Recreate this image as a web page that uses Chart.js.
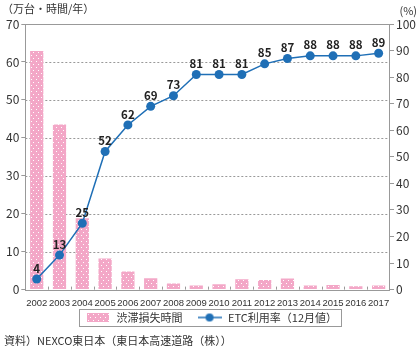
<!DOCTYPE html>
<html>
<head>
<meta charset="utf-8">
<script src="https://cdn.jsdelivr.net/npm/chart.js@4"></script>
<style>
  html, body { margin: 0; padding: 0; background: #fff; }
  #wrap { width: 420px; height: 349px; }
</style>
</head>
<body>
<div id="wrap"><canvas id="chart"></canvas></div>
<script>
const years = ['2002', '2003', '2004', '2005', '2006', '2007', '2008', '2009', '2010', '2011', '2012', '2013', '2014', '2015', '2016', '2017'];
const lossHours = [62.9, 43.5, 18.8, 8.2, 4.8, 3.0, 1.6, 1.1, 1.4, 2.7, 2.5, 2.9, 1.1, 1.2, 0.9, 1.1];
const etcRate = [4, 13, 25, 52, 62, 69, 73, 81, 81, 81, 85, 87, 88, 88, 88, 89];

const pink = '#f3a7c7';
const blue = '#1f6fb6';
const jp = '"Noto Sans CJK JP", "Noto Sans", sans-serif';
const narrow = '"Liberation Sans", Arial, sans-serif';

// pink fill with little white dots
function dotPattern() {
    const c = document.createElement('canvas');
    c.width = 5; c.height = 6;
    const g = c.getContext('2d');
    g.fillStyle = pink;
    g.fillRect(0, 0, 5, 6);
    g.fillStyle = '#fff';
    g.fillRect(1, 1, 1, 1);
    g.fillRect(3, 4, 1, 1);
    return g.createPattern(c, 'repeat');
}
const barFill = dotPattern();

function legendBarIcon() {
    const c = document.createElement('canvas');
    c.width = 22; c.height = 9;
    const g = c.getContext('2d');
    g.fillStyle = barFill;
    g.fillRect(0, 0, 22, 9);
    return c;
}
function legendLineIcon() {
    const c = document.createElement('canvas');
    c.width = 24; c.height = 10;
    const g = c.getContext('2d');
    g.strokeStyle = blue;
    g.lineWidth = 1.5;
    g.beginPath(); g.moveTo(0, 5); g.lineTo(24, 5); g.stroke();
    g.fillStyle = blue;
    g.beginPath(); g.arc(12, 5, 4, 0, Math.PI * 2); g.fill();
    return c;
}

const extras = {
    id: 'extras',
    beforeDatasetsDraw(chart) {
        // dotted grid lines from the left scale
        const { ctx, chartArea: a } = chart;
        const y = chart.scales.y;
        ctx.save();
        ctx.strokeStyle = '#999';
        ctx.lineWidth = 1;
        ctx.setLineDash([2, 2]);
        y.ticks.forEach((t, i) => {
            if (t.value === 0 || t.value === 70) return;
            const py = Math.round(y.getPixelForTick(i)) + 0.5;
            ctx.beginPath(); ctx.moveTo(a.left, py); ctx.lineTo(a.right, py); ctx.stroke();
        });
        ctx.restore();
    },
    afterDatasetsDraw(chart) {
        const { ctx, chartArea: a } = chart;
        ctx.save();
        // frame
        ctx.strokeStyle = '#999';
        ctx.lineWidth = 1;
        ctx.strokeRect(Math.round(a.left) + 0.5, Math.round(a.top) + 0.5, Math.round(a.right - a.left) - 1, Math.round(a.bottom - a.top));
        // small ticks between categories
        const x = chart.scales.x;
        for (let i = 1; i < years.length; i++) {
            const px = Math.round((x.getPixelForTick(i - 1) + x.getPixelForTick(i)) / 2) + 0.5;
            ctx.beginPath(); ctx.moveTo(px, a.bottom); ctx.lineTo(px, a.bottom - 3); ctx.stroke();
        }
        // values above line points
        const meta = chart.getDatasetMeta(1);
        ctx.fillStyle = '#222';
        ctx.font = 'bold 11.5px ' + jp;
        ctx.textAlign = 'center';
        ctx.textBaseline = 'bottom';
        meta.data.forEach((p, i) => {
            ctx.fillText(String(etcRate[i]), p.x, p.y - 5);
        });
        ctx.restore();
    },
    afterDraw(chart) {
        const { ctx } = chart;
        ctx.save();
        ctx.fillStyle = '#333';
        ctx.font = '11px ' + jp;
        ctx.textBaseline = 'middle';
        ctx.textAlign = 'left';
        ctx.fillText('（万台・時間/年）', 2, 9);
        ctx.fillText('資料）NEXCO東日本（東日本高速道路（株））', 4, 341);
        ctx.textAlign = 'right';
        ctx.fillText('(%)', 417, 11);
        // legend border
        const hb = chart.legend.legendHitBoxes;
        if (hb && hb.length) {
            const l = Math.min(...hb.map(h => h.left)) - 6;
            const r = Math.max(...hb.map(h => h.left + h.width)) + 4;
            const t = Math.min(...hb.map(h => h.top)) - 3;
            const b = Math.max(...hb.map(h => h.top + h.height)) + 3;
            ctx.strokeStyle = '#999';
            ctx.lineWidth = 1;
            ctx.strokeRect(Math.round(l) + 0.5, Math.round(t) + 0.5, Math.round(r - l), Math.round(b - t));
        }
        ctx.restore();
    }
};

new Chart(document.getElementById('chart'), {
    type: 'bar',
    data: {
        labels: years,
        datasets: [
            {
                label: '渋滞損失時間',
                data: lossHours,
                backgroundColor: barFill,
                borderWidth: 0,
                barPercentage: 0.58,
                categoryPercentage: 1,
                yAxisID: 'y',
                order: 2
            },
            {
                type: 'line',
                label: 'ETC利用率（12月値）',
                data: etcRate,
                borderColor: blue,
                backgroundColor: blue,
                borderWidth: 1.5,
                pointRadius: 4.5,
                pointBackgroundColor: blue,
                pointBorderWidth: 0,
                tension: 0,
                yAxisID: 'y1',
                order: 1
            }
        ]
    },
    options: {
        responsive: true,
        maintainAspectRatio: false,
        animation: false,
        layout: { padding: { top: 24, left: 4, right: 2, bottom: 16 } },
        plugins: {
            tooltip: { enabled: false },
            legend: {
                position: 'bottom',
                labels: {
                    usePointStyle: true,
                    pointStyleWidth: 26,
                    color: '#333',
                    font: { family: jp, size: 11 },
                    padding: 3,
                    generateLabels() {
                        return [
                            { text: '渋滞損失時間　', pointStyle: legendBarIcon(), datasetIndex: 0, lineWidth: 0, fontColor: '#333' },
                            { text: 'ETC利用率（12月値）', pointStyle: legendLineIcon(), datasetIndex: 1, lineWidth: 0, fontColor: '#333' }
                        ];
                    }
                }
            }
        },
        scales: {
            x: {
                grid: { display: false },
                border: { display: false },
                ticks: {
                    color: '#333',
                    font: { family: narrow, size: 9.5 },
                    maxRotation: 0,
                    autoSkip: false,
                    padding: 0
                }
            },
            y: {
                min: 0,
                max: 70,
                ticks: { stepSize: 10, color: '#333', font: { family: jp, size: 12 }, padding: 2 },
                grid: { drawOnChartArea: false, tickColor: '#999', tickLength: 4 },
                border: { display: false }
            },
            y1: {
                position: 'right',
                min: 0,
                max: 100,
                ticks: { stepSize: 10, color: '#333', font: { family: jp, size: 12 }, padding: 2 },
                grid: { drawOnChartArea: false, tickColor: '#999', tickLength: 4 },
                border: { display: false }
            }
        }
    },
    plugins: [extras]
});
</script>
</body>
</html>
